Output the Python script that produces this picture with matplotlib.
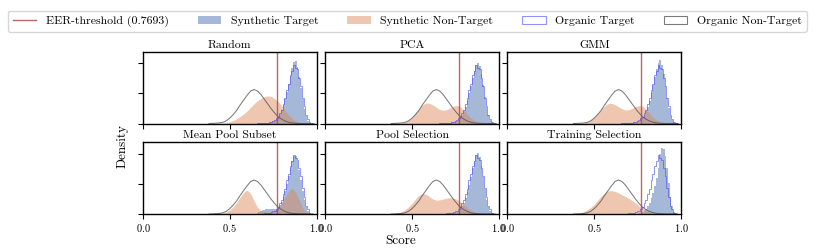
import numpy as np
import matplotlib
matplotlib.use("Agg")
import matplotlib.pyplot as plt
from matplotlib.lines import Line2D
from matplotlib.patches import Patch

plt.rcParams['font.family'] = ['cmr10', 'DejaVu Serif']
plt.rcParams['axes.formatter.use_mathtext'] = True
plt.rcParams['mathtext.fontset'] = 'cm'

eer_threshold = 0.7693
methods = ["Random", "PCA", "GMM", "Mean Pool Subset", "Pool Selection", "Training Selection"]

# coarse bins (centres 0.38 .. 0.98, width 0.02)
coarse_centers = [0.38, 0.40, 0.42, 0.44, 0.46, 0.48, 0.50, 0.52, 0.54, 0.56, 0.58,
                  0.60, 0.62, 0.64, 0.66, 0.68, 0.70, 0.72, 0.74, 0.76, 0.78,
                  0.80, 0.82, 0.84, 0.86, 0.88, 0.90, 0.92, 0.94, 0.96, 0.98]
# fine bins (centres 0.66 .. 0.99, width 0.01)
fine_centers = [0.66, 0.67, 0.68, 0.69, 0.70, 0.71, 0.72, 0.73, 0.74, 0.75,
                0.76, 0.77, 0.78, 0.79, 0.80, 0.81, 0.82, 0.83, 0.84, 0.85,
                0.86, 0.87, 0.88, 0.89, 0.90, 0.91, 0.92, 0.93, 0.94, 0.95,
                0.96, 0.97, 0.98, 0.99]
fine_width = 0.01

organic_nontarget = [0.0, 0.02, 0.05, 0.1, 0.2, 0.45, 0.9, 1.5, 2.2, 3.1, 3.9,
                     4.7, 5.4, 5.65, 5.4, 4.8, 4.0, 3.2, 2.4, 1.7, 1.1,
                     0.7, 0.4, 0.2, 0.1, 0.05, 0.02, 0.0, 0.0, 0.0, 0.0]

organic_target = [0.02, 0.03, 0.05, 0.07, 0.09, 0.12, 0.15, 0.22, 0.28, 0.42,
                  0.58, 0.88, 1.15, 1.75, 2.25, 3.25, 4.2, 5.6, 6.6, 8.0,
                  8.8, 9.8, 9.3, 9.0, 7.6, 6.3, 4.3, 2.9, 1.4, 0.75,
                  0.22, 0.08, 0.02, 0.0]

synthetic_nontarget_random = [0, 0, 0.02, 0.03, 0.05, 0.15, 0.3, 0.5, 0.8, 1.2, 1.6,
                              2.1, 2.7, 3.3, 3.8, 4.2, 4.5, 4.6, 4.5, 4.1, 3.6,
                              2.9, 2.1, 1.4, 0.8, 0.4, 0.15, 0.05, 0, 0, 0]
synthetic_nontarget_pca = [0, 0, 0.02, 0.05, 0.2, 0.5, 1.0, 1.7, 2.5, 3.1, 3.4,
                           3.4, 3.1, 2.7, 2.35, 2.2, 2.3, 2.6, 2.9, 3.0, 2.8,
                           2.2, 1.5, 0.9, 0.5, 0.25, 0.1, 0.03, 0, 0, 0]
synthetic_nontarget_gmm = [0, 0.01, 0.03, 0.08, 0.25, 0.55, 1.0, 1.6, 2.3, 2.9, 3.3,
                           3.35, 3.15, 2.8, 2.45, 2.25, 2.3, 2.55, 2.85, 3.0, 2.85,
                           2.3, 1.6, 1.0, 0.55, 0.25, 0.1, 0.03, 0, 0, 0]
synthetic_nontarget_meanpool = [0, 0, 0.02, 0.05, 0.15, 0.35, 0.7, 1.2, 1.9, 2.8, 3.6,
                                4.0, 3.4, 2.2, 1.1, 0.55, 0.35, 0.3, 0.35, 0.55, 1.0,
                                1.8, 2.8, 3.8, 4.3, 3.6, 2.3, 1.0, 0.3, 0.05, 0]
synthetic_nontarget_poolsel = [0.02, 0.05, 0.15, 0.35, 0.7, 1.2, 1.8, 2.5, 3.1, 3.4, 3.3,
                               2.9, 2.5, 2.3, 2.35, 2.5, 2.65, 2.7, 2.65, 2.4, 2.0,
                               1.5, 1.0, 0.6, 0.3, 0.12, 0.04, 0, 0, 0, 0]
synthetic_nontarget_trainsel = [0.01, 0.05, 0.15, 0.35, 0.7, 1.1, 1.6, 2.3, 3.0, 3.5, 3.85,
                                3.9, 3.75, 3.5, 3.2, 2.9, 2.6, 2.2, 1.8, 1.3, 0.85,
                                0.5, 0.25, 0.1, 0.03, 0, 0, 0, 0, 0, 0]

synthetic_target_random = [0.05, 0.06, 0.08, 0.09, 0.1, 0.12, 0.15, 0.2, 0.3, 0.4,
                           0.55, 0.8, 1.1, 1.6, 2.2, 3.0, 4.0, 5.2, 6.5, 7.9,
                           9.2, 10.2, 10.4, 9.4, 7.8, 5.9, 4.0, 2.4, 1.2, 0.5,
                           0.15, 0.05, 0, 0]
synthetic_target_pca = [0.03, 0.04, 0.05, 0.06, 0.08, 0.1, 0.13, 0.18, 0.25, 0.35,
                        0.5, 0.7, 1.0, 1.45, 2.0, 2.8, 3.8, 5.0, 6.3, 7.6,
                        8.8, 9.7, 10.0, 9.5, 8.2, 6.4, 4.4, 2.7, 1.4, 0.6,
                        0.2, 0.06, 0.01, 0]
synthetic_target_gmm = [0.03, 0.04, 0.05, 0.06, 0.08, 0.1, 0.13, 0.18, 0.25, 0.35,
                        0.5, 0.7, 1.0, 1.4, 2.0, 2.8, 3.8, 5.0, 6.4, 7.8,
                        9.1, 10.1, 10.5, 9.8, 8.3, 6.3, 4.3, 2.6, 1.3, 0.55,
                        0.18, 0.05, 0.01, 0]
synthetic_target_meanpool = [0.2, 0.3, 0.45, 0.6, 0.7, 0.8, 0.85, 0.9, 0.85, 0.8,
                             0.8, 0.9, 1.1, 1.5, 2.0, 2.8, 3.8, 5.0, 6.3, 7.6,
                             8.8, 9.7, 9.6, 8.8, 7.4, 5.6, 3.8, 2.3, 1.2, 0.5,
                             0.15, 0.05, 0, 0]
synthetic_target_poolsel = [0.02, 0.03, 0.04, 0.05, 0.06, 0.08, 0.1, 0.14, 0.2, 0.28,
                            0.4, 0.58, 0.85, 1.25, 1.8, 2.6, 3.6, 4.8, 6.2, 7.6,
                            8.9, 9.8, 10.1, 9.4, 8.0, 6.1, 4.1, 2.4, 1.2, 0.5,
                            0.15, 0.04, 0.01, 0]
synthetic_target_trainsel = [0, 0, 0.01, 0.01, 0.02, 0.03, 0.04, 0.05, 0.06, 0.08,
                             0.1, 0.2, 0.35, 0.6, 0.9, 1.3, 1.9, 2.6, 3.5, 4.6,
                             6.0, 7.6, 10.0, 11.0, 10.8, 9.6, 7.6, 5.2, 2.9, 1.3,
                             0.4, 0.1, 0.02, 0]

synthetic_target = [synthetic_target_random, synthetic_target_pca, synthetic_target_gmm,
                    synthetic_target_meanpool, synthetic_target_poolsel, synthetic_target_trainsel]
synthetic_nontarget = [synthetic_nontarget_random, synthetic_nontarget_pca, synthetic_nontarget_gmm,
                       synthetic_nontarget_meanpool, synthetic_nontarget_poolsel, synthetic_nontarget_trainsel]

c_syn_t = '#4c72b0'
c_syn_nt = '#dd8452'
c_org_t = '#4848ff'
c_org_nt = '#505050'
c_eer = '#b24a4e'

fig, axes = plt.subplots(2, 3, figsize=(8.14, 2.52), dpi=100, sharex=True, sharey=True)
fig.subplots_adjust(left=0.1757, right=0.8366, top=0.7937, bottom=0.1508, wspace=0.05, hspace=0.265)

fine_edges = np.append(np.array(fine_centers) - fine_width / 2, fine_centers[-1] + fine_width / 2)

for i, ax in enumerate(axes.flat):
    ax.stairs(synthetic_target[i], fine_edges, fill=True, color=c_syn_t, alpha=0.5, lw=0)
    ax.fill_between(coarse_centers, synthetic_nontarget[i], 0, color=c_syn_nt, alpha=0.45, lw=0)
    ax.stairs(organic_target, fine_edges, color=c_org_t, alpha=0.6, lw=0.7)
    ax.plot(coarse_centers, organic_nontarget, color=c_org_nt, alpha=0.75, lw=0.75)
    ax.axvline(eer_threshold, color=c_eer, alpha=0.85, lw=1.0)
    ax.set_title(methods[i], fontsize=8.5, pad=3)
    ax.set_xlim(0, 1.0)
    ax.set_ylim(0, 11.9)
    ax.set_xticks([0.0, 0.5, 1.0])
    ax.set_yticks([0, 5, 10])
    ax.tick_params(axis='y', labelleft=False, length=3.5, width=0.8)
    ax.tick_params(axis='x', labelsize=7.5, length=3.5, width=0.8, pad=2)
    for s in ax.spines.values():
        s.set_linewidth(1.0)

fig.text(0.151, 0.42, "Density", rotation=90, ha='center', va='center', fontsize=9.5)
fig.text(0.492, 0.045, "Score", ha='center', va='center', fontsize=9.5)

handles = [
    Line2D([], [], color=c_eer, alpha=0.85, lw=1.0),
    Patch(facecolor=c_syn_t, alpha=0.5, edgecolor='none'),
    Patch(facecolor=c_syn_nt, alpha=0.45, edgecolor='none'),
    Patch(facecolor='none', edgecolor=c_org_t, alpha=0.6, lw=0.8),
    Patch(facecolor='none', edgecolor=c_org_nt, alpha=0.75, lw=0.8),
]
labels = ["EER-threshold (0.7693)", "Synthetic Target", "Synthetic Non-Target",
          "Organic Target", "Organic Non-Target"]
fig.legend(handles, labels, loc='lower left', ncol=5, mode='expand',
           bbox_to_anchor=(0.0098, 0.874, 0.981, 0.087), fontsize=8.5,
           frameon=True, borderaxespad=0, handlelength=2.0, columnspacing=1.0)

fig.savefig("out.png", dpi=100)
